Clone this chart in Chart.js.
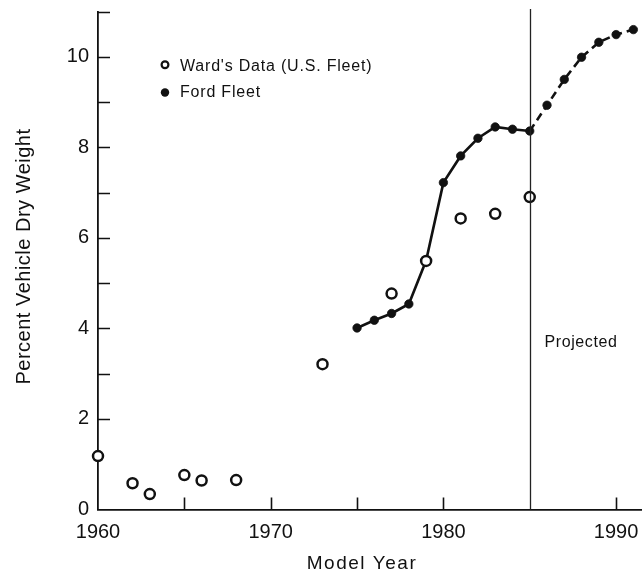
<!DOCTYPE html>
<html>
<head>
<meta charset="utf-8">
<script src="https://cdn.jsdelivr.net/npm/chart.js@4/dist/chart.umd.min.js"></script>
<style>
  html, body { margin: 0; padding: 0; background: #fff; }
  canvas { display: block; }
</style>
</head>
<body>
<canvas id="chart" width="642" height="574"></canvas>
<script>
// Ward's Data (U.S. fleet) — open circles
const wardYears  = [1960, 1962, 1963, 1965, 1966, 1968, 1973, 1977, 1979, 1981, 1983, 1985];
const wardValues = [1.18, 0.58, 0.34, 0.76, 0.64, 0.65, 3.21, 4.77, 5.49, 6.43, 6.53, 6.90];

// Ford fleet — filled dots joined by a line (dashed after the projection year)
const fordYears  = [1975, 1976, 1977, 1978, 1979, 1980, 1981, 1982, 1983, 1984, 1985, 1986, 1987, 1988, 1989, 1990, 1991];
const fordValues = [4.01, 4.18, 4.33, 4.54, 5.50, 7.22, 7.81, 8.20, 8.45, 8.40, 8.36, 8.93, 9.50, 9.99, 10.32, 10.49, 10.60];

const projectionYear = 1985;

// Axis ticks
const xLabelTicks = [1960, 1970, 1980, 1990];
const xMarkTicks  = [1965, 1970, 1975, 1980, 1990];
const yLabelTicks = [0, 2, 4, 6, 8, 10];
const yMarkTicks  = [2, 3, 4, 5, 6, 7, 8, 9, 10, 11];

const X_MIN = 1960, X_MAX = 1991.5;
const Y_MIN = 0, Y_MAX = 11;

const INK = '#111';
const FONT = '"Liberation Sans", Arial, Helvetica, sans-serif';

const toPoints = (xs, ys) => xs.map((x, i) => ({ x, y: ys[i] }));

// Inward tick marks, projection divider, legend and axis titles
const decorations = {
  id: 'decorations',
  afterDatasetsDraw(chart) {
    const { ctx, chartArea, scales: { x, y } } = chart;
    ctx.save();

    // tick marks pointing into the plot
    ctx.strokeStyle = INK;
    ctx.lineWidth = 1.6;
    ctx.beginPath();
    xMarkTicks.forEach(v => {
      const px = Math.round(x.getPixelForValue(v)) + 0.5;
      ctx.moveTo(px, chartArea.bottom);
      ctx.lineTo(px, chartArea.bottom - 12);
    });
    yMarkTicks.forEach(v => {
      const py = Math.round(y.getPixelForValue(v)) + 0.5;
      ctx.moveTo(chartArea.left, py);
      ctx.lineTo(chartArea.left + 12, py);
    });
    ctx.stroke();

    // projection divider
    const pxProj = Math.round(x.getPixelForValue(projectionYear)) + 0.5;
    ctx.strokeStyle = '#222';
    ctx.lineWidth = 1.3;
    ctx.beginPath();
    ctx.moveTo(pxProj, chartArea.bottom);
    ctx.lineTo(pxProj, chartArea.top - 2.5);
    ctx.stroke();

    ctx.fillStyle = INK;
    ctx.textBaseline = 'alphabetic';

    // "Projected" label
    ctx.font = '16px ' + FONT;
    ctx.letterSpacing = '0.6px';
    ctx.textAlign = 'left';
    ctx.fillText('Projected', pxProj + 14, y.getPixelForValue(3.6));

    // legend
    ctx.font = '16px ' + FONT;
    ctx.letterSpacing = '0.8px';
    ctx.lineWidth = 2.2;
    ctx.strokeStyle = INK;
    ctx.beginPath();
    ctx.arc(165, 64.7, 3.4, 0, Math.PI * 2);
    ctx.fillStyle = '#fff';
    ctx.fill();
    ctx.stroke();
    ctx.fillStyle = INK;
    ctx.beginPath();
    ctx.arc(165, 92.5, 4.2, 0, Math.PI * 2);
    ctx.fill();
    ctx.fillText("Ward's Data (U.S. Fleet)", 180, 70.7);
    ctx.fillText('Ford Fleet', 180, 96.7);

    // axis titles
    ctx.textAlign = 'center';
    ctx.font = '19px ' + FONT;
    ctx.letterSpacing = '1.5px';
    ctx.fillText('Model Year', 362, 569);

    ctx.font = '20px ' + FONT;
    ctx.letterSpacing = '0.5px';
    ctx.translate(29.5, 256.5);
    ctx.rotate(-Math.PI / 2);
    ctx.fillText('Percent Vehicle Dry Weight', 0, 0);

    ctx.restore();
  }
};

new Chart(document.getElementById('chart'), {
  type: 'line',
  data: {
    datasets: [
      {
        label: "Ward's Data (U.S. Fleet)",
        data: toPoints(wardYears, wardValues),
        showLine: false,
        pointRadius: 5,
        pointBorderWidth: 2.5,
        pointBackgroundColor: '#fff',
        pointBorderColor: INK,
        clip: false
      },
      {
        label: 'Ford Fleet',
        data: toPoints(fordYears, fordValues),
        showLine: true,
        borderColor: INK,
        borderWidth: 2.6,
        tension: 0,
        pointRadius: 4.2,
        pointBorderWidth: 0.8,
        pointBackgroundColor: INK,
        pointBorderColor: INK,
        segment: {
          borderDash: c => (c.p0.parsed.x >= projectionYear ? [8, 5] : undefined)
        },
        clip: false
      }
    ]
  },
  options: {
    responsive: false,
    animation: false,
    devicePixelRatio: 1,
    layout: { autoPadding: false, padding: { top: 11.5, left: 0, right: 0, bottom: 0 } },
    plugins: {
      legend: { display: false },
      tooltip: { enabled: false }
    },
    scales: {
      x: {
        type: 'linear',
        min: X_MIN,
        max: X_MAX,
        afterBuildTicks: s => { s.ticks = xLabelTicks.map(v => ({ value: v })); },
        afterFit: s => { s.height = 64.5; s.paddingLeft = 0; s.paddingRight = 0; },
        grid: { display: false, drawTicks: false, tickLength: 0 },
        border: { display: true, color: INK, width: 1.8 },
        ticks: {
          padding: 11,
          maxRotation: 0,
          autoSkip: false,
          color: INK,
          font: { family: FONT, size: 20 },
          callback: v => String(v)
        }
      },
      y: {
        type: 'linear',
        min: Y_MIN,
        max: Y_MAX,
        afterBuildTicks: s => { s.ticks = yLabelTicks.map(v => ({ value: v })); },
        afterFit: s => { s.width = 98; s.paddingTop = 0; s.paddingBottom = 0; },
        grid: { display: false, drawTicks: false, tickLength: 0 },
        border: { display: true, color: INK, width: 1.8 },
        ticks: {
          padding: 9,
          autoSkip: false,
          color: INK,
          font: { family: FONT, size: 20 },
          callback: v => String(v)
        }
      }
    }
  },
  plugins: [decorations]
});
</script>
</body>
</html>
